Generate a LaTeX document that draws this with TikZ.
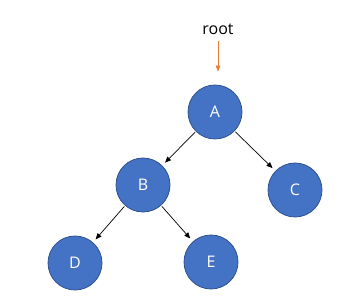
\documentclass[tikz,border=0pt]{standalone}
\usepackage{fontspec}
\setmainfont{Open Sans}
\usetikzlibrary{positioning, arrows.meta}
\definecolor{nodeblue}{HTML}{4472C4}
\definecolor{nodeedge}{HTML}{2F528F}
\definecolor{rootorange}{HTML}{ED7D31}

\begin{document}
\begin{tikzpicture}[x=1pt, y=1pt,
    treenode/.style={circle, fill=nodeblue, draw=nodeedge, line width=0.8pt,
      minimum size=54pt, inner sep=0pt, text=white, font=\fontsize{16}{19}\selectfont},
    child/.style={-{Triangle[length=6pt, width=5pt]}, line width=0.7pt,
      shorten <=1pt, shorten >=4pt}]
        \useasboundingbox (0,0) rectangle (355,302);
        \node[font=\fontsize{16}{19}\selectfont, inner sep=1pt] (rootlabel) at (218,273) {root};
        \node[treenode] (A) at (215,190) {A};
        \node[treenode] (B) at (143,117) {B};
        \node[treenode] (C) at (295,112) {C};
        \node[treenode] (D) at (75,39) {D};
        \node[treenode] (E) at (211,40) {E};
        \draw[-{Triangle[length=6pt, width=4.5pt]}, line width=0.8pt, rootorange,
          shorten <=5pt, shorten >=13pt] (rootlabel.south) -- (rootlabel.south |- A.north);
        \foreach \p/\c in {A/B, A/C, B/D, B/E}
          \draw[child] (\p) -- (\c);
     \end{tikzpicture}
\end{document}
